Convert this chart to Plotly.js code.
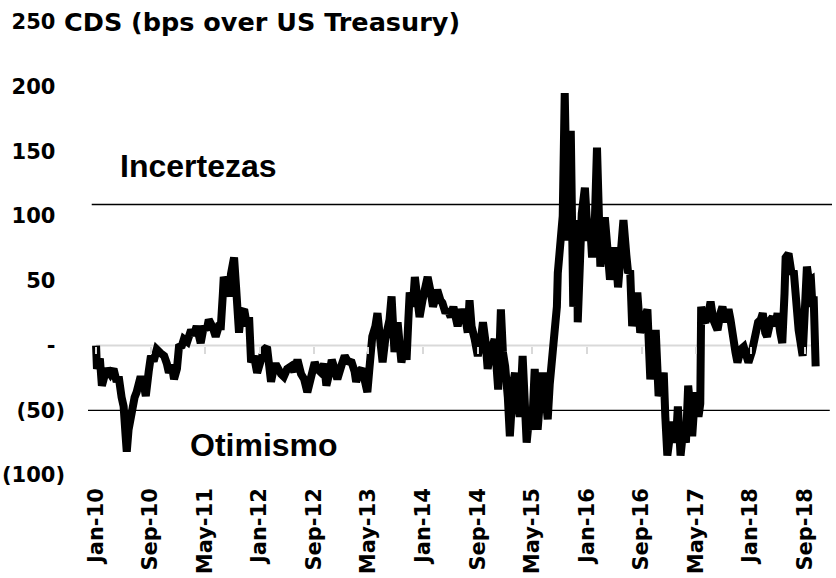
<!DOCTYPE html>
<html>
<head>
<meta charset="utf-8">
<script src="https://cdn.plot.ly/plotly-3.0.1.min.js"></script>
<style>
  html, body { margin: 0; padding: 0; background: #ffffff; }
  #chart { width: 836px; height: 578px; }
</style>
</head>
<body>
<div id="chart"></div>
<script>
// ---- Data ----
const dates = [
  '2010-01-01','2010-01-05','2010-01-18','2010-01-27','2010-02-10','2010-02-19','2010-03-06','2010-03-20',
  '2010-04-03','2010-04-12','2010-04-25','2010-05-04','2010-05-13','2010-05-18','2010-05-26','2010-06-09',
  '2010-06-22','2010-07-01','2010-07-19','2010-08-02','2010-08-11','2010-08-24','2010-09-03','2010-09-15',
  '2010-09-29','2010-10-17','2010-11-01','2010-11-13','2010-11-22','2010-12-05','2010-12-15','2010-12-28',
  '2011-01-06','2011-01-19','2011-01-28','2011-02-12','2011-03-01','2011-03-13','2011-03-26','2011-04-13',
  '2011-04-27','2011-05-10','2011-05-19','2011-06-06','2011-06-19','2011-07-03','2011-07-12','2011-07-21',
  '2011-07-25','2011-08-09','2011-08-18','2011-08-26','2011-09-09','2011-09-18','2011-09-21','2011-10-01',
  '2011-10-10','2011-10-24','2011-11-06','2011-11-15','2011-11-24','2011-12-07','2011-12-21','2012-01-09',
  '2012-01-21','2012-02-03','2012-02-12','2012-02-21','2012-03-06','2012-03-18','2012-04-06','2012-04-18',
  '2012-05-03','2012-05-21','2012-06-03','2012-06-18','2012-07-04','2012-07-18','2012-08-01','2012-08-19',
  '2012-09-03','2012-09-15','2012-10-03','2012-10-15','2012-10-25','2012-11-09','2012-11-18','2012-12-01',
  '2012-12-13','2013-01-01','2013-01-15','2013-01-28','2013-02-15','2013-02-28','2013-03-07','2013-03-21',
  '2013-04-01','2013-04-13','2013-04-26','2013-05-04','2013-05-13','2013-05-18','2013-06-01','2013-06-10',
  '2013-06-19','2013-07-03','2013-07-15','2013-07-24','2013-08-03','2013-08-12','2013-08-25','2013-09-08',
  '2013-09-17','2013-09-25','2013-10-09','2013-10-18','2013-10-26','2013-11-01','2013-11-15','2013-11-24',
  '2013-12-06','2013-12-15','2013-12-28','2014-01-07','2014-01-20','2014-02-04','2014-02-13','2014-02-26',
  '2014-03-04','2014-03-18','2014-03-27','2014-04-10','2014-04-19','2014-05-03','2014-05-15','2014-06-03',
  '2014-06-21','2014-07-09','2014-07-18','2014-07-26','2014-08-04','2014-08-18','2014-09-01','2014-09-15',
  '2014-09-24','2014-10-06','2014-10-15','2014-10-28','2014-11-15','2014-12-01','2014-12-09','2014-12-13',
  '2014-12-22','2015-01-01','2015-01-13','2015-01-22','2015-02-05','2015-02-14','2015-02-27','2015-03-07',
  '2015-03-20','2015-03-28','2015-04-07','2015-04-21','2015-05-01','2015-05-13','2015-05-26','2015-06-09',
  '2015-06-18','2015-07-01','2015-07-10','2015-07-19','2015-07-28','2015-08-11','2015-08-20','2015-08-24',
  '2015-09-07','2015-09-15','2015-09-24','2015-10-03','2015-10-06','2015-10-21','2015-11-01','2015-11-09',
  '2015-11-18','2015-11-21','2015-12-01','2015-12-09','2015-12-23','2016-01-06','2016-01-15','2016-01-24',
  '2016-02-06','2016-02-15','2016-03-01','2016-03-12','2016-03-21','2016-04-04','2016-04-13','2016-04-27',
  '2016-05-06','2016-05-19','2016-06-03','2016-06-12','2016-06-25','2016-07-03','2016-07-12','2016-07-21',
  '2016-08-04','2016-08-13','2016-08-26','2016-09-09','2016-09-27','2016-10-10','2016-10-24','2016-11-03',
  '2016-11-16','2016-12-01','2016-12-09','2016-12-16','2016-12-25','2017-01-09','2017-01-18','2017-02-01',
  '2017-02-10','2017-02-22','2017-03-06','2017-03-18','2017-03-28','2017-04-07','2017-04-15','2017-04-28',
  '2017-05-13','2017-05-21','2017-05-25','2017-06-04','2017-06-13','2017-06-27','2017-07-06','2017-07-18',
  '2017-08-06','2017-08-19','2017-08-28','2017-09-12','2017-09-24','2017-10-03','2017-10-12','2017-10-25',
  '2017-11-03','2017-11-18','2017-12-01','2017-12-13','2017-12-22','2018-01-06','2018-01-15','2018-01-24',
  '2018-02-03','2018-02-15','2018-02-24','2018-03-07','2018-03-15','2018-04-01','2018-04-09','2018-04-21',
  '2018-05-01','2018-05-13','2018-05-22','2018-06-01','2018-06-06','2018-06-19','2018-07-03','2018-07-12',
  '2018-07-25','2018-08-03','2018-08-21','2018-09-01','2018-09-09','2018-09-18','2018-09-27','2018-10-04',
  '2018-10-09','2018-10-18'
];
const cds = [
  0,-18,-10,-31,-22,-18,-22,-18,
  -28,-24,-40,-47,-70,-82,-65,-49,
  -40,-36,-24,-30,-39,-20,-8,-12,
  -3,-6,-8,-14,-21,-15,-26,-18,
  -1,0,5,3,12,8,15,2,
  15,12,20,14,7,15,15,40,
  53,45,38,55,68,45,38,10,
  25,28,15,22,-13,-8,-21,-10,
  -3,-1,-24,-28,-16,-16,-22,-24,
  -18,-16,-20,-11,-22,-26,-36,-20,
  -13,-18,-21,-14,-31,-20,-11,-18,
  -26,-15,-8,-12,-13,-20,-28,-20,
  -18,-26,-36,-20,0,7,15,25,
  10,-13,5,12,20,38,-5,18,
  5,-13,0,-11,20,41,30,53,
  35,22,35,45,53,40,30,38,
  43,35,33,25,28,22,30,15,
  28,20,10,35,15,5,-8,5,
  18,2,-18,-5,5,-34,-10,28,
  -5,-16,-40,-70,-30,-21,-45,-55,
  -8,-40,-75,-50,-65,-18,-65,-35,
  -21,-40,-57,-30,-13,2,30,56,
  76,100,195,110,81,166,30,60,
  97,18,60,102,122,81,95,68,
  100,153,61,90,99,70,51,65,
  76,45,70,97,70,56,58,15,
  30,41,10,20,28,-26,-5,12,
  -39,-30,-21,-55,-85,-65,-59,-75,
  -47,-85,-65,-75,-31,-50,-70,-36,
  -55,-45,30,20,18,25,34,20,
  12,25,30,18,28,20,5,-5,
  -13,-3,-1,-10,-13,-5,5,10,
  18,20,25,10,7,20,22,15,
  25,10,2,40,68,71,55,58,
  30,12,-8,30,61,50,51,30,
  38,-16
];
const thresholds = [109, -50];           // Incertezas / Otimismo reference lines
const tickDates = ['2010-01-01','2010-09-01','2011-05-01','2012-01-01','2012-09-01','2013-05-01','2014-01-01',
                   '2014-09-01','2015-05-01','2016-01-01','2016-09-01','2017-05-01','2018-01-01','2018-09-01'];
const tickLabels = ['Jan-10','Sep-10','May-11','Jan-12','Sep-12','May-13','Jan-14',
                    'Sep-14','May-15','Jan-16','Sep-16','May-17','Jan-18','Sep-18'];
const yTickVals = [-100, -50, 0, 50, 100, 150, 200, 250];
const hid = '<span style="color:rgba(0,0,0,0)">)</span>';
const yTickText = ['(100)', '(50)', '-' + hid, '50' + hid, '100' + hid, '150' + hid, '200' + hid, '250' + hid];

const xRange = ['2009-11-26', '2018-12-30'];
const yRange = [-100, 250];
const tickFont = {family: 'DejaVu Sans', size: 21, color: '#000000', weight: 'bold'};

const traces = [
  {
    x: dates, y: cds, type: 'scatter', mode: 'lines',
    line: {color: '#000000', width: 8},
    hoverinfo: 'skip', showlegend: false
  },
  {
    x: [tickDates[0]], y: [null], xaxis: 'x2', type: 'scatter', mode: 'lines',
    hoverinfo: 'skip', showlegend: false
  }
];

const layout = {
  width: 836, height: 578,
  margin: {l: 88, r: 4, t: 22, b: 103},
  paper_bgcolor: '#ffffff', plot_bgcolor: '#ffffff',
  showlegend: false,
  xaxis: {
    type: 'date', range: xRange,
    tickvals: tickDates, ticktext: tickLabels, tickangle: -90,
    tickfont: tickFont, ticks: '', showgrid: false, zeroline: false, showline: false,
    ticklabelstandoff: 8
  },
  xaxis2: {
    type: 'date', range: xRange, overlaying: 'x', anchor: 'free', position: (0 - yRange[0]) / (yRange[1] - yRange[0]),
    tickvals: tickDates, showticklabels: false, ticks: 'outside', ticklen: 7, tickwidth: 2, tickcolor: '#d9d9d9',
    showgrid: false, zeroline: false, showline: false
  },
  yaxis: {
    range: yRange, tickvals: yTickVals, ticktext: yTickText,
    tickfont: tickFont, ticks: '', showgrid: false, zeroline: false, showline: false,
    ticklabelstandoff: 22
  },
  shapes: [
    {type: 'line', xref: 'x', yref: 'y', x0: dates[0], x1: dates[dates.length - 1], y0: 0, y1: 0,
     line: {color: '#d9d9d9', width: 2}, layer: 'below'},
    {type: 'line', xref: 'paper', yref: 'y', x0: 0.005, x1: 1, y0: thresholds[0], y1: thresholds[0],
     line: {color: '#000000', width: 1.3}, layer: 'below'},
    {type: 'line', xref: 'paper', yref: 'y', x0: 0, x1: 0.997, y0: thresholds[1], y1: thresholds[1],
     line: {color: '#000000', width: 1.3}, layer: 'below'}
  ],
  annotations: [
    {text: 'CDS (bps over US Treasury)', xref: 'paper', yref: 'y', x: -0.035, y: 250,
     xanchor: 'left', yanchor: 'middle', showarrow: false,
     font: {family: 'DejaVu Sans', size: 25.5, color: '#000000', weight: 'bold'}},
    {text: 'Incertezas', xref: 'paper', yref: 'paper', x: 0.148, y: 0.683,
     xanchor: 'center', yanchor: 'middle', showarrow: false,
     font: {family: 'Liberation Sans, Arial', size: 32, color: '#000000', weight: 'bold'}},
    {text: 'Otimismo', xref: 'paper', yref: 'paper', x: 0.237, y: 0.066,
     xanchor: 'center', yanchor: 'middle', showarrow: false,
     font: {family: 'Liberation Sans, Arial', size: 32, color: '#000000', weight: 'bold'}}
  ]
};

Plotly.newPlot('chart', traces, layout, {staticPlot: true, displayModeBar: false});
</script>
</body>
</html>
